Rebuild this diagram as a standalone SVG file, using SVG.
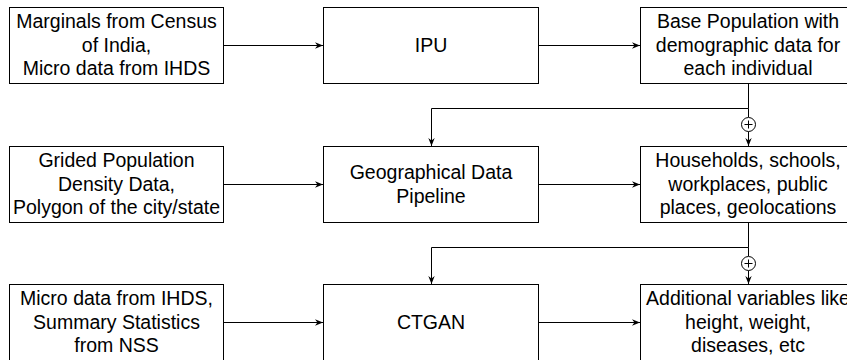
<svg xmlns="http://www.w3.org/2000/svg" width="847" height="360" viewBox="0 0 847 360">
<defs>
<marker id="arr" viewBox="0 0 10 10" refX="10" refY="5" markerWidth="8" markerHeight="8" markerUnits="userSpaceOnUse" orient="auto">
<path d="M0,1 L10,5 L0,9 L3,5 Z" fill="#000"/>
</marker>
<style>
.box{fill:#fff;stroke:#000;stroke-width:1}
.t{font-family:"Liberation Sans",Arial,sans-serif;font-size:19.5px;fill:#000;text-anchor:middle}
.c{fill:none;stroke:#000;stroke-width:1;marker-end:url(#arr)}
.l{fill:none;stroke:#000;stroke-width:1}
.circ{fill:#fff;stroke:#000;stroke-width:1}
</style>
</defs>
<g id="n1"><rect class="box" x="9.5" y="7.5" width="214" height="76"/>
<text class="t" x="116.5" y="28">Marginals from Census</text><text class="t" x="116.5" y="51.5">of India,</text><text class="t" x="116.5" y="75">Micro data from IHDS</text></g>
<g id="n2"><rect class="box" x="323.5" y="7.5" width="215" height="76"/>
<text class="t" x="431" y="52">IPU</text></g>
<g id="n3"><rect class="box" x="640.5" y="7.5" width="215" height="76"/>
<text class="t" x="748" y="28">Base Population with</text><text class="t" x="748" y="51.5">demographic data for</text><text class="t" x="748" y="75">each individual</text></g>
<g id="n4"><rect class="box" x="9.5" y="146.5" width="214" height="76"/>
<text class="t" x="116.5" y="167">Grided Population</text><text class="t" x="116.5" y="190.5">Density Data,</text><text class="t" x="116.5" y="214">Polygon of the city/state</text></g>
<g id="n5"><rect class="box" x="323.5" y="146.5" width="215" height="76"/>
<text class="t" x="431" y="179">Geographical Data</text><text class="t" x="431" y="202.5">Pipeline</text></g>
<g id="n6"><rect class="box" x="640.5" y="146.5" width="215" height="76"/>
<text class="t" x="748" y="167">Households, schools,</text><text class="t" x="748" y="190.5">workplaces, public</text><text class="t" x="748" y="214">places, geolocations</text></g>
<g id="n7"><rect class="box" x="9.5" y="284.5" width="214" height="80"/>
<text class="t" x="116.5" y="305">Micro data from IHDS,</text><text class="t" x="116.5" y="328.5">Summary Statistics</text><text class="t" x="116.5" y="352">from NSS</text></g>
<g id="n8"><rect class="box" x="323.5" y="284.5" width="215" height="80"/>
<text class="t" x="431" y="329">CTGAN</text></g>
<g id="n9"><rect class="box" x="640.5" y="284.5" width="215" height="80"/>
<text class="t" x="748" y="305">Additional variables like</text><text class="t" x="748" y="328.5">height, weight,</text><text class="t" x="748" y="352">diseases, etc</text></g>
<g id="connectors">
<path class="c" d="M223.5,45.5 H323"/>
<path class="c" d="M538.5,45.5 H640"/>
<path class="c" d="M223.5,184.5 H323"/>
<path class="c" d="M538.5,184.5 H640"/>
<path class="c" d="M223.5,322.5 H323"/>
<path class="c" d="M538.5,322.5 H640"/>
<path class="c" d="M748.5,83.5 V108.5 H431.5 V146"/>
<path class="l" d="M748.5,108.5 V117"/>
<path class="c" d="M748.5,131.5 V146"/>
<circle class="circ" cx="748.5" cy="124.5" r="7"/>
<path class="l" d="M744.5,124.5 H752.5 M748.5,120.5 V128.5"/>
<path class="c" d="M748.5,222.5 V247.5 H431.5 V284"/>
<path class="l" d="M748.5,247.5 V256"/>
<path class="c" d="M748.5,270.5 V284"/>
<circle class="circ" cx="748.5" cy="263.5" r="7"/>
<path class="l" d="M744.5,263.5 H752.5 M748.5,259.5 V267.5"/>
</g>
</svg>
